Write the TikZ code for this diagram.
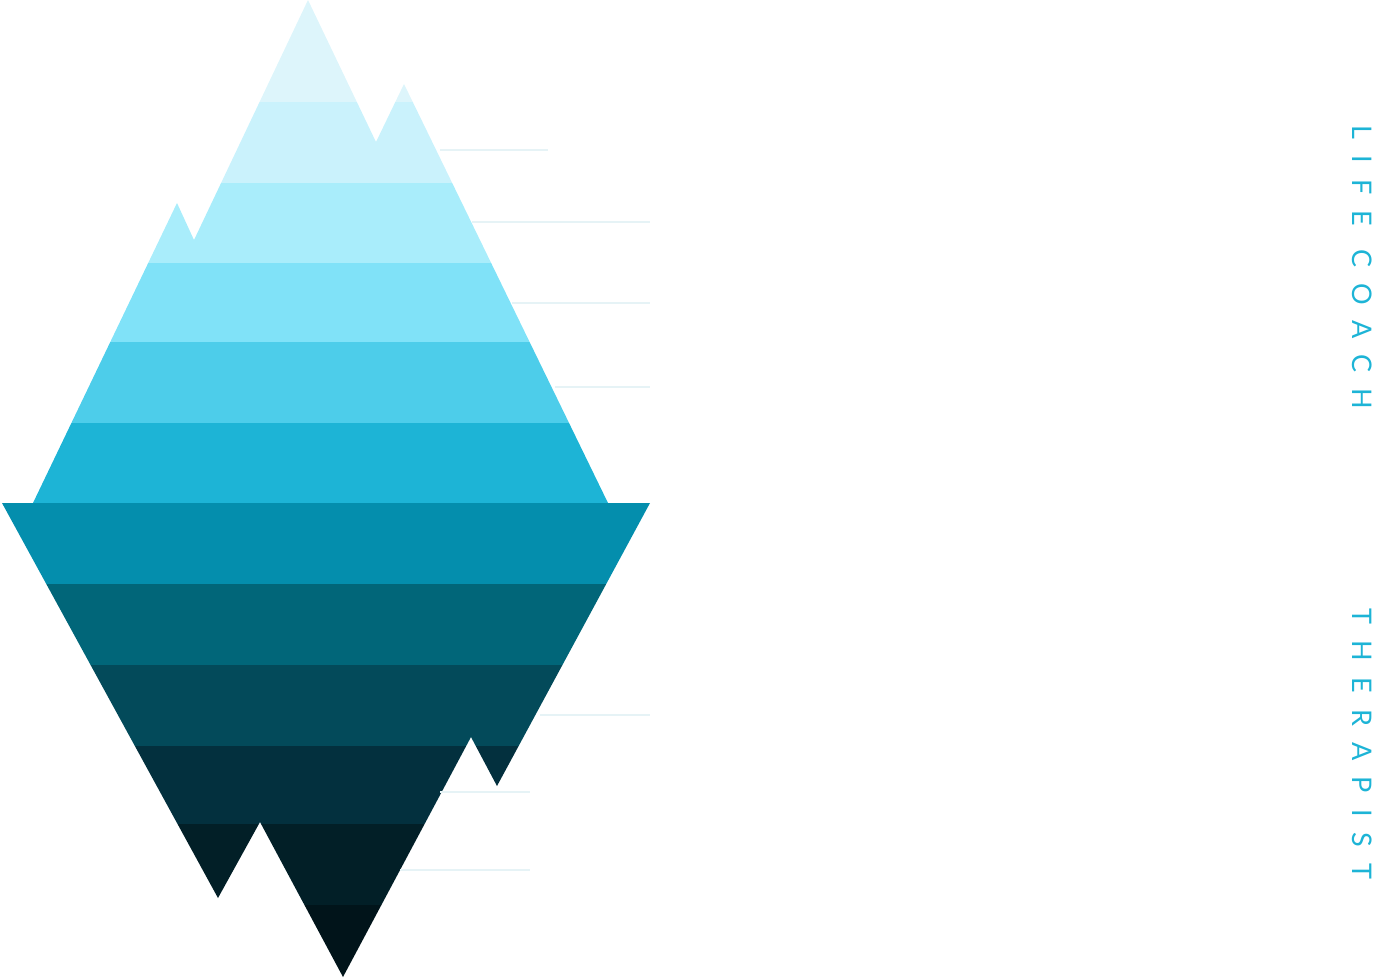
\documentclass[tikz,border=0pt]{standalone}
\usepackage{fontspec}
\newfontfamily\spfont[LetterSpace=60]{Lato}
\definecolor{c1}{HTML}{DDF5FB}\definecolor{c2}{HTML}{CAF2FC}\definecolor{c3}{HTML}{A9EDFB}
\definecolor{c4}{HTML}{80E2F8}\definecolor{c5}{HTML}{4DCDEA}\definecolor{c6}{HTML}{1DB4D6}
\definecolor{c7}{HTML}{048EAD}\definecolor{c8}{HTML}{016679}\definecolor{c9}{HTML}{034A5A}
\definecolor{c10}{HTML}{03303E}\definecolor{c11}{HTML}{021F27}\definecolor{c12}{HTML}{01141A}
\definecolor{faint}{HTML}{E6F3F6}\definecolor{txt}{HTML}{1DB4D6}
\begin{document}
\begin{tikzpicture}[x=1pt,y=-1pt,
  guide/.style={faint,line width=1.6pt},
  label/.style={txt,rotate=-90,anchor=west,inner sep=0,font=\spfont\fontsize{27}{27}\selectfont}]
\useasboundingbox (0,0) rectangle (1374,978);
\begin{scope}
\clip (33,503) -- (177,203) -- (194,240) -- (308,0) -- (376,142) -- (404,84) -- (608,503) -- cycle;
\fill[c1] (0,0) rectangle (660,102);
\fill[c2] (0,102) rectangle (660,183);
\fill[c3] (0,183) rectangle (660,263);
\fill[c4] (0,263) rectangle (660,342);
\fill[c5] (0,342) rectangle (660,423);
\fill[c6] (0,423) rectangle (660,503.5);
\end{scope}
\begin{scope}
\clip (2,503) -- (650,503) -- (497,786) -- (471,737) -- (343,977) -- (260,822) -- (218,898) -- cycle;
\fill[c7] (0,503) rectangle (660,584);
\fill[c8] (0,584) rectangle (660,665);
\fill[c9] (0,665) rectangle (660,746);
\fill[c10] (0,746) rectangle (660,824);
\fill[c11] (0,824) rectangle (660,905);
\fill[c12] (0,905) rectangle (660,978);
\end{scope}
\coordinate (g1a) at (440,150); \coordinate (g1b) at (548,150);
\coordinate (g2a) at (472,222); \coordinate (g2b) at (650,222);
\coordinate (g3a) at (512,303); \coordinate (g3b) at (650,303);
\coordinate (g4a) at (555,387); \coordinate (g4b) at (650,387);
\coordinate (g5a) at (540,715); \coordinate (g5b) at (650,715);
\coordinate (g6a) at (440,792); \coordinate (g6b) at (530,792);
\coordinate (g7a) at (400,870); \coordinate (g7b) at (530,870);
\foreach \i in {1,...,7} \draw[guide] (g\i a) -- (g\i b);
\node[label] (lc) at (1362,125) {LIFE COACH};
\node[label] (th) at (1362,608) {THERAPIST};
\end{tikzpicture}
\end{document}
